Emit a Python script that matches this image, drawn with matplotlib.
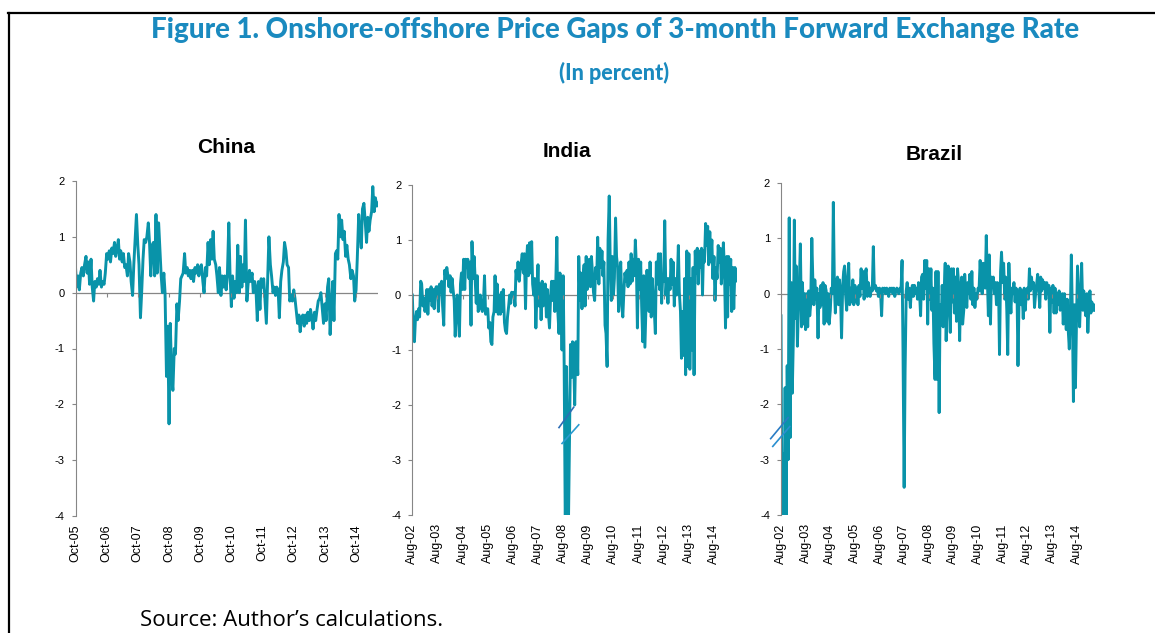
import matplotlib
matplotlib.use("Agg")
import matplotlib.pyplot as plt
from matplotlib.lines import Line2D
import pandas as pd

plt.rcParams["axes.unicode_minus"] = False
plt.rcParams["font.family"] = ["Liberation Sans", "DejaVu Sans"]

# semi-monthly onshore-offshore gap of the 3-month forward rate, in percent
CHINA_START = "2005-10-01"
china_gap = [
    0.45, 0.1, 0.3, 0.05, 0.35, 0.45, 0.3, 0.5, 0.65, 0.35, 0.55, 0.15, 0.6, 0.1, -0.15, 0.2, 0.1, 0.25, 0.15, 0.4, 0.1, 0.2, 0.15, 0.35,
    0.7, 0.6, 0.75, 0.55, 0.8, 0.7, 0.9, 0.65, 0.8, 0.95, 0.6, 0.75, 0.55, 0.7, 0.45, 0.5, 0.3, 0.7, 0.55, 0.2, -0.05, 0.5, 1.0, 1.4,
    0.85, 0.5, -0.45, 0.0, 0.6, 0.95, 0.9, 1.0, 1.25, 0.9, 0.3, 0.85, 0.9, 0.3, 1.4, 0.35, 1.25, 0.8, 0.3, 0.0, 0.35, 0.0, -1.5, -0.6,
    -2.35, -0.55, -1.5, -1.75, -1.0, -1.1, -0.2, -0.5, -0.15, 0.25, 0.3, 0.35, 0.7, 0.35, 0.45, 0.3, 0.4, 0.25, 0.4, 0.2, 0.45, 0.35, 0.5, 0.3,
    0.45, 0.5, 0.2, 0.0, 0.45, 0.3, 0.9, 0.5, 0.95, 0.6, 1.1, 0.6, 0.5, 0.3, 0.0, 0.45, -0.05, 0.3, 0.1, 0.3, 0.05, 0.3, 1.25, 0.35,
    -0.25, 0.3, -0.1, 0.2, 0.0, 0.85, 0.0, 0.65, 0.1, 0.5, 0.2, 1.3, -0.15, 0.15, 0.4, 0.2, 0.35, 0.0, 0.2, 0.1, -0.5, 0.2, -0.3, 0.25,
    0.1, 0.25, -0.2, -0.55, 0.3, 1.0, 0.5, 0.3, 0.0, 0.1, -0.05, 0.1, 0.05, -0.45, 0.2, 0.4, 0.55, 0.9, 0.75, 0.5, 0.45, -0.15, -0.05, -0.15,
    0.05, -0.1, -0.35, -0.55, -0.4, -0.7, -0.45, -0.4, -0.6, -0.4, -0.55, -0.35, -0.5, -0.3, -0.45, -0.65, -0.35, -0.5, -0.3, -0.15, -0.1, 0.0, -0.3, -0.55,
    -0.2, -0.5, 0.1, 0.25, -0.75, -0.3, 0.2, -0.5, 0.7, 0.75, 0.6, 1.4, 1.0, 1.3, 0.95, 1.1, 0.65, 0.85, 0.6, 0.5, 0.25, 0.4, 0.3, -0.15,
    0.05, 0.6, 1.4, 1.1, 0.8, 1.5, 1.6, 1.3, 0.9, 1.35, 1.1, 1.3, 1.45, 1.9, 1.45, 1.7, 1.55, 1.6,
]

INDIA_START = "2002-08-01"
india_gap = [
    0.0, -0.55, -0.85, -0.45, -0.3, -0.45, -0.25, -0.4, 0.25, 0.2, -0.2, -0.05, -0.3, -0.15, 0.1, -0.35, 0.1, -0.1, 0.15, -0.2, 0.1, -0.25, 0.1, 0.15,
    0.15, -0.3, 0.2, 0.05, 0.25, -0.2, -0.55, 0.45, 0.3, 0.5, 0.35, 0.15, 0.35, 0.05, 0.3, 0.1, -0.1, -0.75, -0.25, 0.0, -0.45, -0.75, 0.2, 0.4,
    0.1, 0.65, 0.1, 0.65, 0.55, 0.65, 0.3, 0.6, -0.55, 0.97, 0.3, 0.7, 0.25, -0.15, 0.35, -0.3, -0.2, 0.0, -0.25, -0.3, -0.1, 0.35, -0.35, -0.25,
    -0.25, -0.6, -0.5, -0.85, -0.9, -0.4, -0.3, 0.35, -0.3, 0.2, -0.35, 0.0, -0.35, 0.05, -0.3, 0.1, -0.5, -0.65, -0.7, -0.4, -0.2, 0.0, -0.15, 0.05,
    0.0, 0.05, -0.2, 0.45, 0.3, 0.6, 0.25, 0.45, 0.6, 0.75, 0.4, 0.75, -0.25, 0.6, 0.9, 0.35, 0.95, 0.4, 0.97, 0.2, 0.0, 0.3, -0.6, -0.05,
    0.55, -0.2, 0.2, -0.45, 0.25, -0.2, 0.1, 0.2, -0.4, 0.1, -0.35, -0.6, 0.0, 0.25, -0.1, 0.25, -0.3, 0.2, 1.05, -0.3, -0.7, 0.4, -0.05, -1.0,
    0.35, -1.25, -4.3, -1.3, -2.4, -4.3, -2.6, -0.9, -1.5, -0.85, -1.2, -2.0, -0.85, -1.0, -1.45, 0.7, -0.1, 0.4, -0.25, 0.3, 0.55, -0.2, 0.7, 0.1,
    0.3, 0.65, 0.15, 0.7, 0.4, 0.05, -0.1, 0.5, 0.3, 1.05, 0.2, 0.85, 0.5, 0.8, 0.35, 0.6, -0.55, -0.7, -1.3, 1.0, 1.8, 0.6, -0.1, 0.7,
    0.0, 0.3, 1.4, 0.7, 0.5, -0.3, 0.3, 0.6, -0.2, -0.4, 0.1, 0.4, 0.25, 0.45, 0.15, 0.6, 0.2, 0.75, 0.25, 0.65, 0.35, 1.0, 0.5, -0.6,
    0.65, 0.1, 0.6, -0.2, -0.85, 0.35, -0.95, -0.3, 0.45, 0.15, -0.3, 0.6, -0.4, 0.3, 0.0, -0.25, -0.7, 0.6, 0.2, 0.75, 0.1, 0.75, -0.15, 0.3,
    0.25, 1.35, 0.0, 0.3, -0.15, 0.3, 0.1, 0.65, 0.2, 0.6, -0.2, 0.3, 0.0, 0.3, 0.9, 0.05, -0.3, -1.15, -0.3, -1.1, 0.3, -1.45, 0.8, -1.3,
    0.75, -1.35, 0.3, -1.0, 0.5, -1.45, 0.8, 0.4, 0.85, 0.2, 0.8, 0.5, 0.85, 0.0, 0.8, 0.6, 1.3, 0.9, 1.25, 0.55, 1.15, 0.6, 1.0, 0.3,
    0.7, -0.1, 0.5, 0.3, 0.9, 0.6, 0.85, 0.2, 0.5, 0.95, 0.4, -0.6, 0.7, -0.4, 0.7, 0.2, 0.65, -0.3, 0.5, -0.25, 0.5, 0.25, 0.45,
]

BRAZIL_START = "2002-08-01"
brazil_gap = [
    -0.4, -4.3, -2.9, -4.3, -1.7, -4.3, -1.3, -3.0, 1.37, -2.6, 0.2, -1.8, -0.75, 1.33, -0.45, 0.5, -0.95, -0.3, 0.25, 0.9, -0.6, 0.2, -0.55, 0.0,
    -0.65, 0.0, -0.6, 0.05, -0.4, -0.2, 1.0, 0.3, -0.2, 0.25, -0.1, 0.1, -0.8, 0.0, -0.25, 0.15, -0.2, 0.2, -0.55, 0.15, 0.05, -0.5, 0.0, -0.55,
    -0.3, 0.1, 0.0, 1.65, 0.1, -0.35, 0.2, 0.3, -0.2, 0.25, -0.1, -0.8, 0.15, 0.4, 0.5, 0.0, -0.3, 0.25, 0.55, -0.2, 0.1, -0.15, 0.25, -0.2,
    0.15, -0.15, 0.1, -0.2, 0.15, -0.05, 0.45, 0.1, 0.4, -0.1, 0.35, 0.45, -0.05, 0.2, 0.1, -0.05, 0.1, 0.05, 0.85, 0.1, 0.15, 0.05, 0.1, -0.05,
    0.1, 0.05, -0.4, 0.1, 0.05, 0.1, 0.0, 0.1, 0.05, -0.05, 0.1, 0.05, 0.1, 0.0, 0.1, -0.05, 0.05, 0.1, 0.05, 0.0, 0.1, 0.05, 0.6, -1.0,
    -3.5, -1.4, 0.05, 0.2, -0.1, 0.1, -0.25, 0.05, 0.15, -0.05, 0.15, 0.0, 0.1, -0.1, 0.2, 0.05, -0.4, 0.3, 0.35, -0.1, 0.6, 0.1, 0.6, -0.55,
    0.45, -0.1, 0.45, -0.3, 0.1, -0.9, -1.55, 0.4, -1.55, 0.4, -2.15, -0.2, -0.5, 0.15, -0.6, 0.0, 0.55, -0.85, 0.1, 0.5, -0.3, -0.7, 0.45, -0.15,
    0.45, -0.35, 0.3, -0.5, 0.45, 0.2, -0.85, 0.0, 0.3, -0.55, -0.3, 0.35, 0.0, -0.25, 0.2, 0.0, 0.35, -0.1, 0.4, -0.2, 0.1, -0.25, 0.0, -0.1,
    0.1, 0.05, 0.6, 0.2, 0.0, 0.55, 0.3, 0.1, 1.05, 0.35, -0.4, 0.7, -0.55, 0.3, 0.15, 0.3, 0.0, 0.2, -0.2, 0.2, 0.1, -1.1, 0.4, 0.75,
    0.2, 0.55, -0.1, 0.3, -0.3, -1.1, 0.55, 0.0, -0.35, 0.1, 0.0, 0.2, -0.15, 0.1, 0.0, -1.3, 0.0, 0.1, -0.2, 0.05, -0.45, 0.1, -0.3, 0.0,
    0.1, -0.1, 0.45, 0.05, 0.3, 0.1, 0.2, -0.25, 0.0, 0.15, 0.35, 0.1, -0.25, 0.3, 0.05, 0.25, 0.1, 0.2, -0.1, 0.2, 0.0, 0.15, -0.7, 0.1,
    -0.15, 0.15, -0.35, 0.1, -0.35, 0.0, -0.2, 0.05, -0.3, -0.1, 0.0, -0.55, 0.0, -0.3, -0.65, -0.1, -0.7, -1.0, -0.3, 0.7, -0.5, -1.95, -0.2, -1.7,
    -0.4, 0.5, -0.2, -0.6, 0.0, 0.55, -0.3, 0.05, -0.25, -0.4, 0.0, -0.7, -0.2, 0.05, -0.35, -0.15, -0.3, -0.2, -0.3,
]

LINE = "#0993a9"
AXIS_GREY = "#868686"
HEAD_BLUE = "#1a8abf"
W, H = 1155, 633

fig = plt.figure(figsize=(W / 100, H / 100), dpi=100)


def px_axes(left, right, top, bottom):
    return fig.add_axes([left / W, 1 - bottom / H, (right - left) / W, (bottom - top) / H])


def draw_panel(ax, start, values, first_tick, last_tick):
    dates = pd.date_range(start, periods=len(values), freq="SMS")
    ax.plot(dates, values, color=LINE, lw=2.1)
    ax.set_xlim(dates[0], dates[-1])
    ax.set_ylim(-4, 2)
    ax.axhline(0, color=AXIS_GREY, lw=0.9, zorder=1)

    ticks = pd.date_range(first_tick, last_tick, freq="12MS")
    ax.plot(ticks, [0] * len(ticks), ls="", marker=3, ms=3, mew=0.8, color=AXIS_GREY)
    ax.set_xticks(ticks)
    ax.set_xticklabels([t.strftime("%b-%y") for t in ticks], rotation=90, fontsize=9)
    ax.tick_params(axis="x", length=0, pad=6)

    ax.set_yticks(range(-4, 3))
    ax.set_yticklabels([str(v) for v in range(-4, 3)], fontsize=8)
    ax.tick_params(axis="y", length=3, width=0.8, color=AXIS_GREY, pad=5)
    for side in ("top", "right", "bottom"):
        ax.spines[side].set_visible(False)
    ax.spines["left"].set_color(AXIS_GREY)
    ax.spines["left"].set_linewidth(0.8)
    ax.patch.set_alpha(0)
    return dates


ax_cn = px_axes(75.5, 378, 181, 516)
draw_panel(ax_cn, CHINA_START, china_gap, "2005-10-01", "2014-10-01")

ax_in = px_axes(412.3, 737, 185, 515)
draw_panel(ax_in, INDIA_START, india_gap, "2002-08-01", "2014-08-01")

ax_br = px_axes(781, 1095, 183, 515)
draw_panel(ax_br, BRAZIL_START, brazil_gap, "2002-08-01", "2014-08-01")

# axis-break marks on the truncated spikes
for ax, pairs, cols in (
    (ax_in, [(("2008-06-01", "2009-01-01"), (-2.41, -2.04)),
             (("2008-07-15", "2009-03-15"), (-2.70, -2.36))], ("#2d6db5", "#2a9bd0")),
    (ax_br, [(("2002-03-01", "2002-11-15"), (-2.62, -2.24)),
             (("2002-04-01", "2002-12-10"), (-2.76, -2.40))], ("#2a7cc4", "#2a8fd0")),
):
    for (xs, ys), c in zip(pairs, cols):
        ax.plot(pd.to_datetime(list(xs)), ys, color=c, lw=1.2, clip_on=False, zorder=4)

fig.text(226 / W, 1 - 147 / H, "China", ha="center", va="center", fontsize=15, fontweight="bold")
fig.text(567 / W, 1 - 151 / H, "India", ha="center", va="center", fontsize=15, fontweight="bold")
fig.text(934 / W, 1 - 154 / H, "Brazil", ha="center", va="center", fontsize=15, fontweight="bold")

fig.text(615 / W, 1 - 30 / H, "Figure 1. Onshore-offshore Price Gaps of 3-month Forward Exchange Rate",
         ha="center", va="center", fontsize=20, fontweight="black", color=HEAD_BLUE, family="Lato")
fig.text(614 / W, 1 - 73 / H, "(In percent)", ha="center", va="center",
         fontsize=15.5, fontweight="black", color=HEAD_BLUE, family="Lato")
fig.text(140 / W, 1 - 620 / H, "Source: Author\u2019s calculations.", ha="left", va="center",
         fontsize=16, family="Open Sans")

# box edges around the figure
fig.add_artist(Line2D([8 / W, 1.0], [1 - 12.5 / H] * 2, color="black", lw=1.6))
fig.add_artist(Line2D([9 / W] * 2, [0.0, 1 - 12.5 / H], color="black", lw=1.6))

fig.savefig("out.png", dpi=100)
